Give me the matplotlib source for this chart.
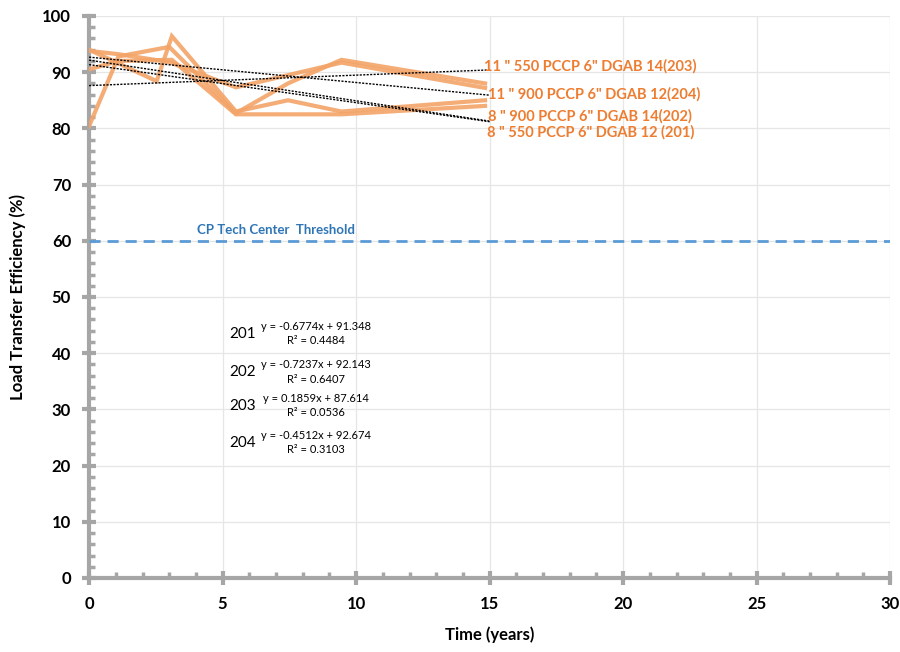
import numpy as np
import matplotlib.pyplot as plt
from matplotlib.ticker import MultipleLocator

plt.rcParams['font.family'] = ['Lato', 'DejaVu Sans']

# series (time in years, LTE in %)
t_201 = [0, 1.1, 3.1, 5.5, 9.45, 14.83]
v_201 = [90.5, 92.0, 92.2, 82.5, 82.5, 84.0]
t_202 = [0, 2.53, 3.1, 5.5, 7.45, 9.45, 14.83]
v_202 = [94.0, 88.4, 96.4, 83.0, 85.0, 83.0, 85.0]
t_203 = [0, 1.1, 3.0, 5.5, 7.45, 9.45, 14.83]
v_203 = [80.4, 92.8, 94.5, 82.7, 88.0, 92.2, 88.0]
t_204 = [0, 1.1, 3.0, 5.5, 9.45, 14.83]
v_204 = [93.8, 93.2, 91.8, 87.3, 91.7, 87.2]

# trendline coefficients (slope, intercept, R2) as shown on the chart
names = ['201', '202', '203', '204']
slopes = [-0.6774, -0.7237, 0.1859, -0.4512]
intercepts = [91.348, 92.143, 87.614, 92.674]
r2 = [0.4484, 0.6407, 0.0536, 0.3103]

labels = ['8 " 550 PCCP 6" DGAB 12 (201)', '8 " 900 PCCP 6" DGAB 14(202)',
          '11 " 550 PCCP 6" DGAB 14(203)', '11 " 900 PCCP 6" DGAB 12(204)']
label_y = [79.3, 82.2, 91.1, 86.1]

threshold = 60

fig = plt.figure(figsize=(9, 6.52), dpi=100)
ax = fig.add_axes([0.099, 0.1135, 0.89, 0.862])

line_col = '#F3A468'
for t, v in [(t_201, v_201), (t_202, v_202), (t_203, v_203), (t_204, v_204)]:
    ax.plot(t, v, color=line_col, lw=3, alpha=0.9, zorder=3, solid_joinstyle='miter')

xs = np.array([0, 15])
for m, b in zip(slopes, intercepts):
    ax.plot(xs, m * xs + b, color='black', ls=(0, (1.5, 1)), lw=1, zorder=4)

ax.plot([0, 30], [threshold, threshold], color='#5B9BD5', ls=(0, (4, 2.5)), lw=2, zorder=3)
ax.text(7.0, threshold + 0.8, 'CP Tech Center  Threshold', color='#2E75B6',
        fontsize=9.5, fontweight='bold', ha='center', va='bottom')

label_x = [14.9, 14.95, 14.8, 14.95]
for lab, x, y in zip(labels, label_x, label_y):
    ax.text(x, y, lab, color='#ED7D31', fontsize=10.5, fontweight='bold',
            ha='left', va='center', zorder=5)

eq_y = [44.8, 38.0, 32.0, 25.4]
for n, m, b, r, y in zip(names, slopes, intercepts, r2, eq_y):
    ax.text(5.25, y - 1.4, n, fontsize=11, ha='left', va='center')
    ax.text(8.5, y, 'y = %.4fx + %.3f' % (m, b), fontsize=8, ha='center', va='center')
    ax.text(8.5, y - 2.6, 'R² = %.4f' % r, fontsize=8, ha='center', va='center')

ax.set_xlim(0, 30)
ax.set_ylim(0, 100)
ax.xaxis.set_major_locator(MultipleLocator(5))
ax.xaxis.set_minor_locator(MultipleLocator(1))
ax.yaxis.set_major_locator(MultipleLocator(10))
ax.yaxis.set_minor_locator(MultipleLocator(2))
ax.grid(True, which='major', color='#E6E6E6', lw=0.9, zorder=0)
ax.set_axisbelow(True)

for s in ['top', 'right']:
    ax.spines[s].set_visible(False)
for s in ['left', 'bottom']:
    ax.spines[s].set_color('#A6A6A6')
    ax.spines[s].set_linewidth(3)
    ax.spines[s].set_zorder(2)
ax.tick_params(which='major', direction='inout', length=10, width=3, color='#A6A6A6',
               labelsize=12, pad=8)
ax.tick_params(which='minor', direction='in', length=4, width=2.5, color='#A6A6A6')
for lab in ax.get_xticklabels() + ax.get_yticklabels():
    lab.set_fontweight('bold')

ax.set_xlabel('Time (years)', fontsize=12, fontweight='bold', labelpad=10)
ax.set_ylabel('Load Transfer Efficiency (%)', fontsize=12, fontweight='bold', labelpad=12)

fig.savefig('out.png', dpi=100)
